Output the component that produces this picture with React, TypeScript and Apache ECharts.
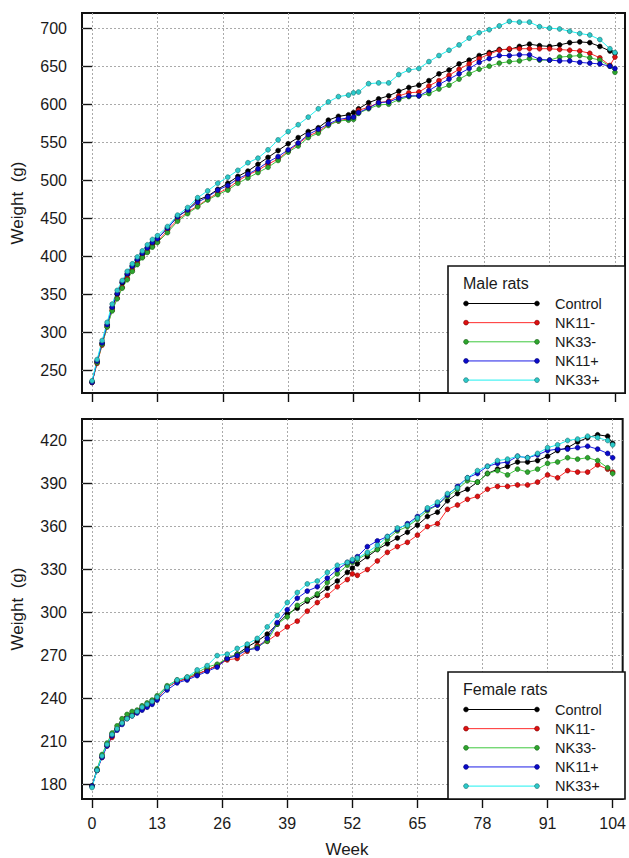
import React, { useEffect, useRef } from "react";
import * as echarts from "echarts";

// ---------- data ----------
const weeks = [
  0, 1, 2, 3, 4, 5, 6, 7, 8, 9, 10, 11, 12, 13,
  15, 17, 19, 21, 23, 25, 27, 29, 31, 33, 35, 37, 39, 41, 43, 45, 47, 49, 51,
  52,
  53, 55, 57, 59, 61, 63, 65, 67, 69, 71, 73, 75, 77, 79, 81, 83, 85, 87, 89, 91, 93, 95, 97, 99, 101, 103,
  104,
];

const groupNames = ["Control", "NK11-", "NK33-", "NK11+", "NK33+"];

const maleControl = [
  234, 261, 285, 309, 332, 350, 365, 376, 387, 395, 403, 411, 417, 423,
  437, 452, 461, 474, 479, 488, 496, 505, 512, 521, 530, 539, 548, 556, 564, 569, 579, 584, 586,
  589,
  594, 602, 607, 611, 617, 622, 625, 631, 640, 645, 653, 658, 664, 668, 672, 672, 676, 679, 677, 676, 678, 681, 682, 681, 676, 670,
  667,
];
const maleNK11m = [
  234, 259, 283, 307, 329, 345, 359, 371, 382, 391, 399, 406, 413, 419,
  434, 448, 458, 466, 475, 483, 489, 499, 507, 513, 521, 528, 538, 548, 558, 564, 573, 578, 581,
  582,
  592, 596, 602, 604, 611, 615, 616, 624, 631, 638, 646, 653, 660, 666, 671, 673, 673, 673, 673, 673, 672, 671, 670, 667, 661, 651,
  662,
];
const maleNK33m = [
  235, 260, 284, 307, 328, 344, 358, 369, 380, 389, 398, 405, 412, 418,
  431, 446, 456, 465, 474, 481, 487, 496, 503, 510, 517, 526, 537, 545, 556, 562, 572, 578, 579,
  580,
  588, 594, 599, 600, 606, 610, 611, 614, 620, 625, 633, 640, 646, 650, 654, 656, 657, 660, 658, 658, 662, 663, 664, 661, 658, 650,
  642,
];
const maleNK11p = [
  234, 262, 286, 310, 333, 351, 366, 377, 387, 396, 404, 411, 418, 423,
  437, 452, 461, 471, 478, 487, 493, 502, 508, 515, 524, 531, 540, 549, 560, 567, 574, 580, 582,
  583,
  589, 595, 602, 603, 608, 611, 611, 618, 626, 633, 640, 647, 655, 660, 664, 664, 665, 665, 659, 658, 657, 657, 655, 654, 653, 650,
  647,
];
const maleNK33p = [
  236, 264, 289, 313, 337, 355, 368, 380, 390, 399, 407, 415, 422, 427,
  439, 454, 464, 477, 486, 496, 504, 513, 523, 529, 540, 553, 564, 573, 583, 594, 603, 610, 612,
  615,
  616, 627, 628, 628, 639, 645, 647, 656, 664, 671, 678, 687, 694, 698, 703, 709, 708, 708, 702, 700, 699, 696, 693, 691, 685, 673,
  668,
];

const femaleControl = [
  179, 190, 200, 208, 215, 219, 223, 227, 229, 231, 233, 235, 237, 240,
  248, 252, 254, 257, 260, 263, 268, 271, 276, 280, 285, 292, 299, 303, 308, 312, 317, 322, 328,
  331,
  334, 339, 344, 348, 352, 356, 361, 367, 370, 378, 383, 386, 391, 397, 400, 402, 405, 405, 406, 409, 413, 415, 419, 422, 424, 423,
  418,
];
const femaleNK11m = [
  179, 190, 199, 207, 213, 219, 223, 227, 229, 231, 233, 235, 237, 240,
  248, 252, 254, 257, 260, 263, 267, 268, 273, 277, 280, 285, 290, 294, 301, 307, 312, 318, 323,
  327,
  326, 330, 336, 342, 346, 349, 354, 360, 362, 372, 375, 379, 381, 386, 388, 388, 389, 389, 391, 396, 394, 399, 398, 398, 403, 400,
  398,
];
const femaleNK33m = [
  179, 191, 201, 209, 216, 221, 226, 229, 231, 232, 235, 237, 239, 242,
  249, 253, 255, 258, 262, 264, 268, 271, 274, 276, 280, 292, 297, 305, 309, 313, 321, 327, 333,
  335,
  337, 341, 344, 351, 357, 360, 365, 371, 375, 381, 386, 392, 391, 397, 399, 396, 400, 398, 400, 404, 405, 408, 407, 408, 406, 401,
  397,
];
const femaleNK11p = [
  179, 190, 199, 207, 214, 218, 222, 226, 228, 230, 232, 234, 236, 239,
  246, 251, 253, 256, 259, 262, 268, 270, 274, 275, 282, 293, 302, 310, 315, 318, 324, 330, 335,
  336,
  339, 346, 350, 353, 358, 362, 367, 372, 375, 382, 388, 394, 397, 402, 404, 405, 409, 408, 410, 413, 414, 414, 415, 416, 414, 411,
  408,
];
const femaleNK33p = [
  178, 190, 200, 208, 215, 219, 223, 226, 228, 231, 234, 236, 238, 241,
  248, 253, 255, 260, 263, 270, 271, 275, 278, 282, 290, 298, 307, 314, 320, 322, 328, 333, 335,
  337,
  338, 342, 347, 353, 359, 361, 366, 373, 377, 383, 387, 394, 399, 402, 406, 407, 409, 408, 411, 415, 417, 420, 421, 423, 422, 420,
  417,
];

const xTicks = [0, 13, 26, 39, 52, 65, 78, 91, 104];
const maleTicks = [250, 300, 350, 400, 450, 500, 550, 600, 650, 700];
const femaleTicks = [180, 210, 240, 270, 300, 330, 360, 390, 420];
const maleTitle = "Male rats";
const femaleTitle = "Female rats";
const xName = "Week";
const yName = "Weight  (g)";

// ---------- styles ----------
const FONT = '"Liberation Sans", Arial, Helvetica, sans-serif';
const lineColors = ["#000000", "#ff2d2d", "#3ec83e", "#1c1ce6", "#1ef0f0"];
const dotColors = ["#000000", "#dd1111", "#2ea62e", "#0a0acc", "#2ccaca"];
const dotBorders = ["#000000", "#7a0000", "#175c17", "#000066", "#1e6a6a"];

export default function App() {
  const ref = useRef<HTMLDivElement>(null);

  useEffect(() => {
    if (!ref.current) return;
    const chart = echarts.init(ref.current, null, { renderer: "svg" });

    const male = [maleControl, maleNK11m, maleNK33m, maleNK11p, maleNK33p];
    const female = [femaleControl, femaleNK11m, femaleNK33m, femaleNK11p, femaleNK33p];

    const mkSeries = (vals: number[], gi: number, idx: number) => ({
      type: "line",
      name: groupNames[idx],
      xAxisIndex: gi,
      yAxisIndex: gi,
      data: weeks.map((w, i) => [w, vals[i]]),
      symbol: "circle",
      symbolSize: 4.8,
      showSymbol: true,
      showAllSymbol: true,
      lineStyle: { color: lineColors[idx], width: 1 },
      itemStyle: { color: dotColors[idx], borderColor: dotBorders[idx], borderWidth: 0.6 },
      emphasis: { disabled: true },
      silent: true,
    });

    const mkX = (gi: number, showLabels: boolean) => ({
      type: "value",
      gridIndex: gi,
      min: -2,
      max: 106,
      axisLine: { show: false },
      axisTick: {
        show: true,
        inside: false,
        length: 9,
        customValues: xTicks,
        lineStyle: { color: "#111", width: 1.4 },
      },
      axisLabel: {
        show: showLabels,
        customValues: xTicks,
        margin: 16,
        fontSize: 16,
        fontFamily: FONT,
        color: "#1a1a1a",
      },
      splitLine: { show: true, lineStyle: { color: "#aaaaaa", type: [2, 2], width: 1 } },
    });

    const mkY = (gi: number, min: number, max: number, ticks: number[]) => ({
      type: "value",
      gridIndex: gi,
      min,
      max,
      name: yName,
      nameLocation: "middle",
      nameGap: 56,
      nameTextStyle: { fontSize: 17, fontFamily: FONT, color: "#1a1a1a" },
      axisLine: { show: false },
      axisTick: {
        show: true,
        inside: false,
        length: 9,
        customValues: ticks,
        lineStyle: { color: "#111", width: 1.4 },
      },
      axisLabel: {
        show: true,
        customValues: ticks,
        margin: 15,
        fontSize: 16,
        fontFamily: FONT,
        color: "#1a1a1a",
      },
      splitLine: { show: true, lineStyle: { color: "#aaaaaa", type: [2, 2], width: 1 } },
    });

    const legendEls = (top: number, title: string) => {
      const left = 448;
      const right = 625;
      const h = 127;
      const els: any[] = [
        {
          type: "rect",
          shape: { x: left, y: top, width: right - left, height: h },
          style: { fill: "#ffffff", stroke: "#111", lineWidth: 1.6 },
          z: 100,
        },
        {
          type: "text",
          x: 463,
          y: top + 17.5,
          style: {
            text: title,
            fontSize: 16,
            fontFamily: FONT,
            fill: "#1a1a1a",
            verticalAlign: "middle",
            textVerticalAlign: "middle",
          },
          z: 101,
        },
      ];
      groupNames.forEach((nm, i) => {
        const y = top + 37.5 + i * 19.15;
        els.push({
          type: "line",
          shape: { x1: 466, y1: y, x2: 537, y2: y },
          style: { stroke: lineColors[i], lineWidth: 1 },
          z: 101,
        });
        [466, 537].forEach((cx) =>
          els.push({
            type: "circle",
            shape: { cx, cy: y, r: 2.4 },
            style: { fill: dotColors[i], stroke: dotBorders[i], lineWidth: 0.6 },
            z: 102,
          })
        );
        els.push({
          type: "text",
          x: 555,
          y,
          style: {
            text: nm,
            fontSize: 14.5,
            fontFamily: FONT,
            fill: "#1a1a1a",
            verticalAlign: "middle",
            textVerticalAlign: "middle",
          },
          z: 101,
        });
      });
      return els;
    };

    chart.setOption({
      animation: false,
      backgroundColor: "#ffffff",
      textStyle: { fontFamily: FONT },
      grid: [
        { left: 82, top: 13, width: 543, height: 380, show: true, borderColor: "#111", borderWidth: 2, backgroundColor: "transparent", containLabel: false },
        { left: 82, top: 419, width: 543, height: 380, show: true, borderColor: "#111", borderWidth: 2, backgroundColor: "transparent", containLabel: false },
      ],
      xAxis: [mkX(0, false), mkX(1, true)],
      yAxis: [mkY(0, 220, 720, maleTicks), mkY(1, 170, 435, femaleTicks)],
      series: [
        ...male.map((v, i) => mkSeries(v, 0, i)),
        ...female.map((v, i) => mkSeries(v, 1, i)),
      ],
      graphic: [
        ...legendEls(266, maleTitle),
        ...legendEls(672, femaleTitle),
        {
          type: "text",
          x: 347,
          y: 849,
          style: {
            text: xName,
            fontSize: 17,
            fontFamily: FONT,
            fill: "#1a1a1a",
            align: "center",
            textAlign: "center",
            verticalAlign: "middle",
            textVerticalAlign: "middle",
          },
          z: 101,
        },
      ],
    });

    return () => {
      chart.dispose();
    };
  }, []);

  return (
    <div
      ref={ref}
      style={{ position: "fixed", left: 0, top: 0, width: 629, height: 858, background: "#fff" }}
    />
  );
}
